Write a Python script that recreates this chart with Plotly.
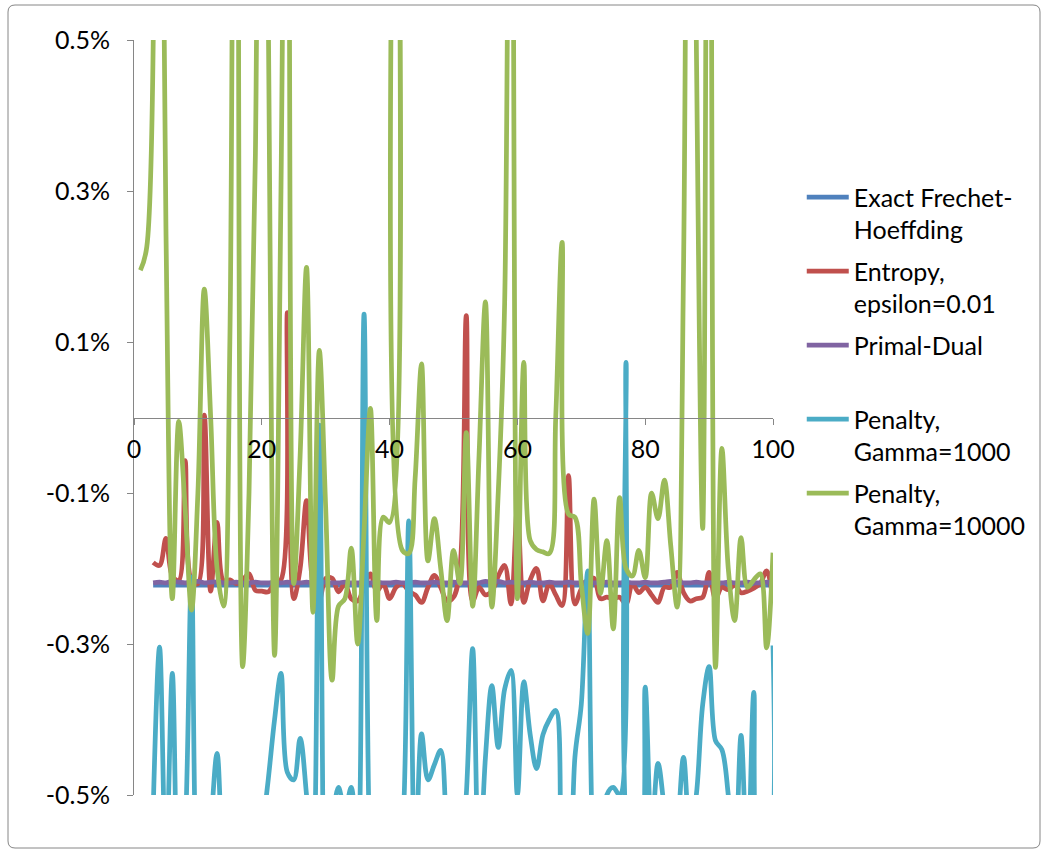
import plotly.graph_objects as go

# ---------------- data (values in percent) ----------------
x_green = list(range(1, 101))
x_other = list(range(3, 101))

exact_fh = [
    -0.222, -0.222, -0.222, -0.222, -0.222, -0.222, -0.222, -0.222, -0.222, -0.222,
    -0.222, -0.222, -0.222, -0.222, -0.222, -0.222, -0.222, -0.222, -0.222, -0.222,
    -0.222, -0.222, -0.222, -0.222, -0.222, -0.222, -0.222, -0.222, -0.222, -0.222,
    -0.222, -0.222, -0.222, -0.222, -0.222, -0.222, -0.222, -0.222, -0.222, -0.222,
    -0.222, -0.222, -0.222, -0.222, -0.222, -0.222, -0.222, -0.222, -0.222, -0.222,
    -0.222, -0.222, -0.222, -0.222, -0.222, -0.222, -0.222, -0.222, -0.222, -0.222,
    -0.222, -0.222, -0.222, -0.222, -0.222, -0.222, -0.222, -0.222, -0.222, -0.222,
    -0.222, -0.222, -0.222, -0.222, -0.222, -0.222, -0.222, -0.222, -0.222, -0.222,
    -0.222, -0.222, -0.222, -0.222, -0.222, -0.222, -0.222, -0.222, -0.222, -0.222,
    -0.222, -0.222, -0.222, -0.222, -0.222, -0.222, -0.222, -0.222,
]

entropy = [
    -0.192, -0.196, -0.160, -0.210, -0.216, -0.057, -0.216, -0.220, 0.003, -0.230,
    -0.139, -0.216, -0.215, -0.220, -0.215, -0.207, -0.229, -0.230, -0.231, -0.220,
    -0.215, 0.139, -0.240, -0.200, -0.110, -0.220, -0.242, -0.213, -0.213, -0.231,
    -0.220, -0.240, -0.243, -0.225, -0.207, -0.230, -0.220, -0.240, -0.225, -0.220,
    -0.230, -0.235, -0.245, -0.225, -0.209, -0.225, -0.243, -0.238, -0.200, 0.135,
    -0.243, -0.225, -0.235, -0.230, -0.210, -0.196, -0.247, -0.120, -0.245, -0.215,
    -0.200, -0.243, -0.220, -0.235, -0.249, -0.077, -0.247, -0.227, -0.215, -0.213,
    -0.240, -0.238, -0.240, -0.238, -0.247, -0.220, -0.232, -0.225, -0.235, -0.245,
    -0.225, -0.225, -0.205, -0.232, -0.243, -0.240, -0.238, -0.205, -0.240, -0.225,
    -0.228, -0.222, -0.232, -0.230, -0.226, -0.220, -0.203, -0.243,
]

primal_dual = [
    -0.219, -0.218, -0.219, -0.217, -0.218, -0.219, -0.218, -0.217, -0.219, -0.218,
    -0.218, -0.219, -0.219, -0.218, -0.219, -0.219, -0.218, -0.219, -0.219, -0.218,
    -0.219, -0.218, -0.219, -0.219, -0.218, -0.219, -0.219, -0.218, -0.219, -0.219,
    -0.218, -0.219, -0.219, -0.218, -0.219, -0.218, -0.219, -0.219, -0.218, -0.219,
    -0.219, -0.218, -0.219, -0.219, -0.218, -0.219, -0.219, -0.218, -0.219, -0.219,
    -0.218, -0.219, -0.217, -0.218, -0.217, -0.219, -0.218, -0.219, -0.219, -0.218,
    -0.219, -0.219, -0.218, -0.219, -0.219, -0.218, -0.219, -0.219, -0.218, -0.219,
    -0.219, -0.218, -0.219, -0.219, -0.218, -0.219, -0.219, -0.218, -0.219, -0.219,
    -0.218, -0.217, -0.218, -0.219, -0.219, -0.218, -0.219, -0.219, -0.218, -0.219,
    -0.218, -0.219, -0.219, -0.218, -0.219, -0.219, -0.218, -0.219,
]

penalty_1000 = [
    -0.520, -0.304, -0.600, -0.339, -0.650, -0.550, -0.211, -0.650, -0.700, -0.550,
    -0.445, -0.600, -0.650, -0.700, -0.700, -0.650, -0.600, -0.550, -0.480, -0.400,
    -0.339, -0.470, -0.480, -0.425, -0.500, -0.600, -0.010, -0.700, -0.550, -0.490,
    -0.520, -0.490, -0.600, 0.137, -0.600, -0.700, -0.700, -0.650, -0.600, -0.550,
    -0.137, -0.600, -0.419, -0.480, -0.460, -0.441, -0.550, -0.600, -0.600, -0.500,
    -0.306, -0.600, -0.450, -0.355, -0.437, -0.360, -0.335, -0.500, -0.350, -0.420,
    -0.465, -0.420, -0.400, -0.388, -0.600, -0.650, -0.450, -0.380, -0.203, -0.600,
    -0.650, -0.500, -0.490, -0.500, 0.073, -0.600, -0.600, -0.357, -0.550, -0.458,
    -0.520, -0.600, -0.550, -0.450, -0.550, -0.500, -0.380, -0.330, -0.428, -0.440,
    -0.500, -0.600, -0.421, -0.600, -0.364, -0.600, -0.600, -0.302,
]

penalty_10000 = [
    0.195, 0.226, 2.500, 1.200, 0.250, -0.240, -0.005, -0.120, -0.255, -0.100,
    0.170, 0.000, -0.200, -0.250, 0.100, 2.000, -0.330, -0.100, 0.350, 1.500,
    0.550, -0.315, 0.300, 1.200, -0.220, -0.050, 0.199, -0.258, 0.089, -0.120,
    -0.348, -0.250, -0.240, -0.173, -0.300, -0.150, 0.012, -0.269, -0.132, -0.139,
    1.200, -0.176, -0.180, -0.080, 0.071, -0.190, -0.134, -0.200, -0.269, -0.176,
    -0.220, -0.020, -0.250, -0.050, 0.153, -0.251, -0.100, 0.150, 1.200, -0.240,
    0.073, -0.163, -0.175, -0.178, -0.180, 0.000, 0.232, -0.128, -0.132, -0.220,
    -0.286, -0.108, -0.233, -0.163, -0.280, -0.106, -0.200, -0.210, -0.176, -0.212,
    -0.100, -0.134, -0.083, -0.170, -0.251, 0.200, 1.500, 0.500, -0.147, 1.500,
    -0.331, -0.041, -0.200, -0.269, -0.159, -0.225, -0.215, -0.207, -0.305, -0.179,
]

series_names = [
    "Exact Frechet-<br>Hoeffding",
    "Entropy,<br>epsilon=0.01",
    "Primal-Dual<br> ",
    "Penalty,<br>Gamma=1000",
    "Penalty,<br>Gamma=10000",
]
series_colors = ["#4F81BD", "#C0504D", "#8064A2", "#4BACC6", "#9BBB59"]

y_tick_vals = [0.5, 0.3, 0.1, -0.1, -0.3, -0.5]
y_tick_text = ["0.5%", "0.3%", "0.1%", "-0.1%", "-0.3%", "-0.5%"]
x_tick_vals = [0, 20, 40, 60, 80, 100]

FONT = "Lato"

fig = go.Figure()
data = [
    (x_other, exact_fh),
    (x_other, entropy),
    (x_other, primal_dual),
    (x_other, penalty_1000),
    (x_green, penalty_10000),
]
for i, (xs, ys) in enumerate(data):
    fig.add_trace(go.Scatter(
        x=xs, y=ys, mode="lines", name=series_names[i],
        legendgroup=f"g{i}",
        line=dict(color=series_colors[i], width=4.75, shape="spline", smoothing=1.0),
        cliponaxis=True,
    ))

fig.update_layout(
    width=1059, height=857,
    margin=dict(l=134, r=286, t=40, b=62),
    paper_bgcolor="white", plot_bgcolor="white",
    font=dict(family=FONT, size=25, color="black"),
    showlegend=True,
    legend=dict(
        x=1.045, xanchor="left", y=0.822, yanchor="top",
        font=dict(family=FONT, size=25, color="black"),
        valign="top", tracegroupgap=6, itemwidth=42,
        bgcolor="rgba(0,0,0,0)",
    ),
    xaxis=dict(
        range=[0, 100], tickvals=x_tick_vals, ticks="outside", ticklen=6,
        tickcolor="#868686", showline=True, linecolor="#868686", linewidth=1,
        anchor="free", position=0.5, showgrid=False, zeroline=False,
        tickfont=dict(family=FONT, size=25, color="black"),
        ticklabelstandoff=3,
    ),
    yaxis=dict(
        range=[-0.5, 0.5], tickvals=y_tick_vals, ticktext=y_tick_text,
        ticks="outside", ticklen=6, tickcolor="#868686",
        showline=True, linecolor="#868686", linewidth=1,
        showgrid=False, zeroline=False,
        tickfont=dict(family=FONT, size=25, color="black"),
        ticklabelstandoff=12,
    ),
)

# outer chart border (rounded)
pw, ph = 639.0, 755.0
def px2x(p):
    return (p - 134) / pw
def py2y(p):
    return (795 - p) / ph
L, R, T, B, r = 8, 1040, 5, 848, 7
path = (
    f"M {px2x(L + r)} {py2y(T)} L {px2x(R - r)} {py2y(T)} "
    f"Q {px2x(R)} {py2y(T)} {px2x(R)} {py2y(T + r)} "
    f"L {px2x(R)} {py2y(B - r)} Q {px2x(R)} {py2y(B)} {px2x(R - r)} {py2y(B)} "
    f"L {px2x(L + r)} {py2y(B)} Q {px2x(L)} {py2y(B)} {px2x(L)} {py2y(B - r)} "
    f"L {px2x(L)} {py2y(T + r)} Q {px2x(L)} {py2y(T)} {px2x(L + r)} {py2y(T)} Z"
)
fig.add_shape(type="path", path=path, xref="paper", yref="paper",
              line=dict(color="#868686", width=1), layer="below")

fig.write_html("out.html")
